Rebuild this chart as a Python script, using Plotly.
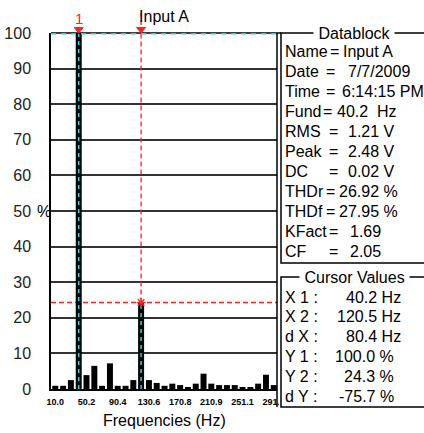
import plotly.graph_objects as go

# ---------------- data ----------------
freqs = [10.0, 20.1, 30.1, 40.2, 50.2, 60.3, 70.3, 80.4, 90.4, 100.5,
         110.5, 120.5, 130.6, 140.6, 150.7, 160.7, 170.8, 180.8, 190.9, 200.9,
         210.9, 221.0, 231.0, 241.1, 251.1, 261.2, 271.2, 281.3, 291.3]
levels = [0.9, 0.9, 2.5, 100.0, 3.9, 6.5, 0.9, 7.2, 0.9, 0.9,
          2.5, 24.3, 2.5, 1.7, 0.9, 1.5, 1.1, 0.5, 1.5, 4.3,
          1.5, 1.1, 1.1, 1.1, 0.5, 0.5, 1.5, 4.0, 1.1]
xtick_vals = [10.0, 50.2, 90.4, 130.6, 170.8, 210.9, 251.1, 291.3]
xtick_text = ["10.0", "50.2", "90.4", "130.6", "170.8", "210.9", "251.1", "291.3"]
ytick_vals = [0, 10, 20, 30, 40, 50, 60, 70, 80, 90, 100]
ytick_text = ["0", "10", "20", "30", "40", "50", "60", "70", "80", "90", "100"]

datablock_labels = ["Name", "Date", "Time", "Fund", "RMS", "Peak", "DC",
                    "THDr", "THDf", "KFact", "CF"]
datablock_values = ["Input A", "7/7/2009", "6:14:15 PM", "40.2\u00a0\u00a0Hz",
                    "1.21 V", "2.48 V", "0.02 V", "26.92 %", "27.95 %", "1.69", "2.05"]

cursor_labels = ["X 1 :", "X 2 :", "d X :", "Y 1 :", "Y 2 :", "d Y :"]
cursor_values = [40.2, 120.5, 80.4, 100.0, 24.3, -75.7]
cursor_units = ["Hz", "Hz", "Hz", "%", "%", "%"]

X1, X2 = cursor_values[0], cursor_values[1]
Y1, Y2 = cursor_values[3], cursor_values[4]

# ---------------- layout geometry (pixels) ----------------
W, H = 424, 433
L, R, T, B = 51, 277, 33, 389


def pxx(p):
    return (p - L) / (R - L)


def pxy(p):
    return (B - p) / (B - T)


FONT = "Liberation Sans, Arial, sans-serif"
RED = "#ff2020"
CYAN = "#10d8e8"

fig = go.Figure()
fig.add_trace(go.Bar(x=freqs, y=levels, marker=dict(color="black", line=dict(width=0)),
                     hoverinfo="skip"))

shapes = []
red_dash = dict(color=RED, width=1.3, dash="5px,3px")
shapes.append(dict(type="line", xref="paper", yref="y", x0=0, x1=1, y0=Y2, y1=Y2,
                   line=red_dash, layer="between"))
shapes.append(dict(type="line", xref="x", yref="y", x0=X2, x1=X2, y0=Y2, y1=Y1,
                   line=red_dash, layer="above"))
shapes.append(dict(type="line", xref="x", yref="paper", x0=X2, x1=X2, y0=1, y1=pxy(13),
                   line=red_dash, layer="above"))
shapes.append(dict(type="line", xref="x", yref="y", x0=X1, x1=X1, y0=0, y1=Y1,
                   line=dict(color=CYAN, width=1.5, dash="4px,4px"), layer="above"))
shapes.append(dict(type="line", xref="x", yref="y", x0=X2, x1=X2, y0=0, y1=Y2,
                   line=dict(color=CYAN, width=1.5, dash="4px,4px"), layer="above"))
shapes.append(dict(type="line", xref="paper", yref="paper", x0=0, x1=1, y0=1, y1=1,
                   line=dict(color="black", width=1.5), layer="above"))
shapes.append(dict(type="line", xref="paper", yref="y", x0=0, x1=1, y0=Y1, y1=Y1,
                   line=dict(color=CYAN, width=3, dash="5px,5px"), layer="above"))
# cursor triangles on top edge (pixel-sized, anchored on the cursor x values)
for cx in (X1, X2):
    shapes.append(dict(type="path", xref="x", yref="paper", xsizemode="pixel",
                       ysizemode="pixel", xanchor=cx, yanchor=1,
                       path="M-4.5,5.5 L4.5,5.5 L0,0 Z", fillcolor=RED,
                       line=dict(color=RED, width=1), layer="above"))
# asterisk at cursor 2 point
for (dx0, dy0, dx1, dy1) in [(-4.5, 0, 4.5, 0), (0, -4.5, 0, 4.5),
                             (-3.3, -3.3, 3.3, 3.3), (-3.3, 3.3, 3.3, -3.3)]:
    shapes.append(dict(type="line", xref="x", yref="y", xsizemode="pixel",
                       ysizemode="pixel", xanchor=X2, yanchor=Y2,
                       x0=dx0, y0=dy0, x1=dx1, y1=dy1,
                       line=dict(color=RED, width=1.3), layer="above"))
# white mask clipping the last tick label
shapes.append(dict(type="rect", xref="paper", yref="paper", x0=pxx(279), x1=pxx(440),
                   y0=pxy(433), y1=pxy(390), fillcolor="white", line=dict(width=0),
                   layer="above"))
shapes.append(dict(type="line", xref="paper", yref="paper", x0=1, x1=1, y0=pxy(407), y1=1,
                   line=dict(color="black", width=1.5), layer="above"))
shapes.append(dict(type="rect", xref="paper", yref="paper", x0=pxx(281), x1=pxx(440),
                   y0=pxy(263), y1=pxy(33), line=dict(color="black", width=1.5),
                   layer="above"))
shapes.append(dict(type="line", xref="paper", yref="paper", x0=1, x1=pxx(281), y0=1, y1=1,
                   line=dict(color="black", width=1.5), layer="above"))
shapes.append(dict(type="rect", xref="paper", yref="paper", x0=pxx(281), x1=pxx(440),
                   y0=pxy(407), y1=pxy(277), line=dict(color="black", width=1.5),
                   layer="above"))

ann = []
txtfont = dict(family=FONT, size=16, color="black")
ann.append(dict(xref="paper", yref="y", x=pxx(35), y=50, text="%", showarrow=False,
                xanchor="left", yanchor="middle", font=txtfont))
ann.append(dict(xref="x", yref="y", x=X1, y=Y1, yshift=15, text="1", showarrow=False,
                xanchor="center", yanchor="middle",
                font=dict(family=FONT, size=15, color=RED)))
ann.append(dict(xref="paper", yref="paper", x=0.5, y=pxy(420), text="Frequencies (Hz)",
                showarrow=False, xanchor="center", yanchor="middle", font=txtfont))
ann.append(dict(xref="paper", yref="paper", x=pxx(354), y=pxy(33),
                text="\u00a0Datablock\u00a0", showarrow=False, xanchor="center",
                yanchor="middle", bgcolor="white", borderpad=0, font=txtfont))
ann.append(dict(xref="paper", yref="paper", x=pxx(354), y=pxy(277),
                text="\u00a0Cursor Values\u00a0", showarrow=False, xanchor="center",
                yanchor="middle", bgcolor="white", borderpad=0, font=txtfont))

eq_x = [334, 330, 330, 327, 333, 333, 333, 330, 330, 333, 333]
val_right = [395, 412, 426, 399, 397, 397, 397, 400, 400, 383, 383]
for i, (lab, val) in enumerate(zip(datablock_labels, datablock_values)):
    yy = pxy(52 + 19.9 * i)
    ann.append(dict(xref="paper", yref="paper", x=pxx(283), y=yy, text=lab,
                    showarrow=False, xanchor="left", yanchor="middle", font=txtfont))
    ann.append(dict(xref="paper", yref="paper", x=pxx(eq_x[i]), y=yy, text="=",
                    showarrow=False, xanchor="center", yanchor="middle", font=txtfont))
    ann.append(dict(xref="paper", yref="paper", x=pxx(val_right[i]), y=yy, text=val,
                    showarrow=False, xanchor="right", yanchor="middle", font=txtfont))

for i, (lab, v, u) in enumerate(zip(cursor_labels, cursor_values, cursor_units)):
    yy = pxy(297 + 19.9 * i)
    ann.append(dict(xref="paper", yref="paper", x=pxx(283), y=yy, text=lab,
                    showarrow=False, xanchor="left", yanchor="middle", font=txtfont))
    ann.append(dict(xref="paper", yref="paper", x=pxx(403 if u == "Hz" else 396), y=yy,
                    text=f"{v:.1f} {u}", showarrow=False, xanchor="right",
                    yanchor="middle", font=txtfont))

fig.update_layout(
    width=W, height=H,
    margin=dict(l=L, r=W - R, t=T, b=H - B, pad=0),
    paper_bgcolor="white", plot_bgcolor="white",
    showlegend=False, bargap=0.23,
    title=dict(text="Input A", x=0.5, xref="paper", xanchor="center",
               y=1 - 16 / H, yref="container", yanchor="middle",
               font=dict(family=FONT, size=16, color="black")),
    shapes=shapes, annotations=ann,
    xaxis=dict(range=[4.5, 295.5], tickvals=xtick_vals, ticktext=xtick_text,
               showgrid=False, zeroline=False, showline=True, linecolor="black",
               linewidth=1.5, ticks="", ticklabelstandoff=3, automargin=False,
               tickfont=dict(family=FONT, size=9, color="black", weight="bold")),
    yaxis=dict(range=[0, 100], tickvals=ytick_vals, ticktext=ytick_text,
               showgrid=True, gridcolor="#333333", gridwidth=1.5, zeroline=False,
               showline=True, linecolor="black", linewidth=1.5, ticks="",
               ticklabelstandoff=15, automargin=False,
               tickfont=dict(family=FONT, size=16, color="#222222")),
)

fig.write_html("out.html", config={"displayModeBar": False},
               post_script="document.body.style.margin='0px';")
